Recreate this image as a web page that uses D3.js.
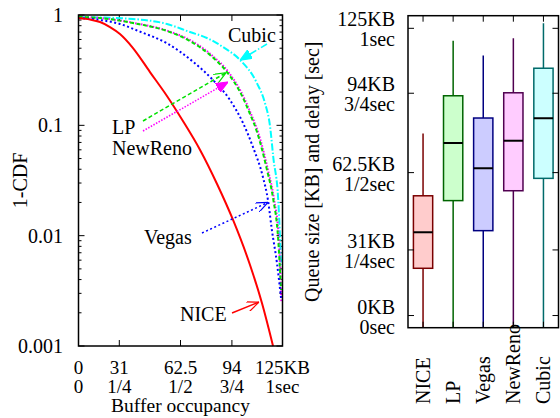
<!DOCTYPE html>
<html>
<head>
<meta charset="utf-8">
<script src="https://cdn.jsdelivr.net/npm/d3@7"></script>
<style>
  body { margin: 0; background: #fff; }
  text { font-family: "Liberation Serif", "Times New Roman", serif; fill: #000; }
</style>
</head>
<body>
<svg id="chart" width="560" height="418"></svg>
<script>
// ---- left panel: 1-CDF of buffer occupancy (x in KB) ----
const niceCurve = [[0,0.939],[7.05,0.910],[13.2,0.864],[19.3,0.778],[25.4,0.673],[33.4,0.502],[43.8,0.304],[54.2,0.1845],[64,0.1094],[74.5,0.0598],[84.9,0.0294],[94.7,0.01387],[105.1,0.00542],[112.4,0.00245],[119.2,0.001]];
const lpCurve = [[0,0.959],[13.2,0.939],[33.4,0.846],[54.2,0.716],[68.3,0.581],[80.6,0.434],[91,0.304],[99,0.2005],[105.1,0.1267],[109.4,0.087],[115.5,0.0394],[119.2,0.0219],[122.3,0.00952],[124.1,0.00322]];
const renoCurve = [[0,0.959],[13.2,0.939],[33.4,0.85],[54.2,0.722],[69,0.585],[81.3,0.437],[91.7,0.306],[99.7,0.2],[105.8,0.126],[110.1,0.086],[116.1,0.0394],[119.7,0.0219],[122.7,0.0095],[124.3,0.0025]];
const vegasCurve = [[0,0.939],[13.2,0.901],[25.4,0.829],[37.7,0.706],[54.2,0.554],[70.2,0.377],[82.4,0.2576],[92.8,0.1697],[100.8,0.105],[106.9,0.0636],[113,0.034],[116.1,0.021],[118.5,0.01125],[121.6,0.00565],[124.1,0.00272]];
const cubicCurve = [[0,0.959],[33.4,0.92],[54.2,0.829],[68.3,0.701],[78.7,0.619],[88.5,0.513],[99,0.391],[109.4,0.24],[114.3,0.1584],[117.4,0.0972],[119.4,0.0506],[122.4,0.021],[124.1,0.00542]];

const cdfTicksX = [0, 25, 62.5, 94, 125];
const cdfLabelsKB = ["0", "31", "62.5", "94", "125KB"];
const cdfLabelsSec = ["0", "1/4", "1/2", "3/4", "1sec"];
const cdfTicksY = [0.001, 0.01, 0.1, 1];
const cdfLabelsY = ["0.001", "0.01", "0.1", "1"];

// ---- right panel: queue size box plot ----
const boxNames = ["NICE", "LP", "Vegas", "NewReno", "Cubic"];
const boxMin = [0, 0, 0, 0, 0];
const boxQ1 = [25.9, 55.4, 42.3, 59.7, 65.1];
const boxMed = [41.6, 80.5, 69.5, 81.5, 91.3];
const boxQ3 = [57.5, 101.1, 91.4, 102.4, 113.1];
const boxMax = [84.7, 125.1, 118.6, 126.2, 132.7];
const boxTicks = [5.3, 33.9, 67.6, 102.2, 130.5];
const boxLabelsKB = ["0KB", "31KB", "62.5KB", "94KB", "125KB"];
const boxLabelsSec = ["0sec", "1/4sec", "1/2sec", "3/4sec", "1sec"];

const svg = d3.select('#chart');

// ================= left panel =================
const L = { left: 78.5, right: 282.5, top: 15, bottom: 346 };
const x = d3.scaleLinear().domain([0, 125]).range([L.left, L.right]);
const y = d3.scaleLog().domain([0.001, 1]).range([L.bottom, L.top]);

const left = svg.append('g');

// minor + major ticks (inward, both sides)
const minorY = [];
for (let e = -3; e < 0; e++) for (let m = 2; m <= 9; m++) minorY.push(m * Math.pow(10, e));
left.selectAll('.minor').data(minorY).join('path')
  .attr('d', d => `M${L.left},${y(d)}h3M${L.right},${y(d)}h-3`)
  .attr('stroke', '#000').attr('stroke-width', 1);
left.selectAll('.majorY').data(cdfTicksY).join('path')
  .attr('d', d => `M${L.left},${y(d)}h6M${L.right},${y(d)}h-6`)
  .attr('stroke', '#000').attr('stroke-width', 1);
left.selectAll('.majorX').data(cdfTicksX.slice(1, -1)).join('path')
  .attr('d', d => `M${x(d)},${L.bottom}v-6M${x(d)},${L.top}v6`)
  .attr('stroke', '#000').attr('stroke-width', 1);

left.selectAll('.ylab').data(cdfTicksY).join('text')
  .attr('x', 63).attr('y', d => y(d)).attr('dy', '0.35em')
  .attr('text-anchor', 'end').style('font-size', '20px')
  .text((d, i) => cdfLabelsY[i]);

left.selectAll('.xlab1').data(cdfTicksX).join('text')
  .attr('x', d => x(d)).attr('y', 374)
  .attr('text-anchor', 'middle').style('font-size', '19px')
  .text((d, i) => cdfLabelsKB[i]);
left.selectAll('.xlab2').data(cdfTicksX).join('text')
  .attr('x', d => x(d)).attr('y', 393)
  .attr('text-anchor', 'middle').style('font-size', '19px')
  .text((d, i) => cdfLabelsSec[i]);

left.append('text').attr('x', x(62.5)).attr('y', 412)
  .attr('text-anchor', 'middle').style('font-size', '19.5px').text('Buffer occupancy');
left.append('text').attr('transform', `translate(27,${(L.top + L.bottom) / 2}) rotate(-90)`)
  .attr('text-anchor', 'middle').style('font-size', '20px').text('1-CDF');

const lineGen = d3.line().x(d => x(d[0])).y(d => y(d[1])).curve(d3.curveMonotoneX);

const series = [
  { data: cubicCurve, color: '#00ffff', dash: '7,2,1.5,2' },
  { data: renoCurve, color: '#ff00ff', dash: '1.5,1.5' },
  { data: lpCurve, color: '#00e000', dash: '4,2.5' },
  { data: vegasCurve, color: '#0000ff', dash: '2,2.5' },
  { data: niceCurve, color: '#ff0000', dash: null }
];
left.selectAll('.curve').data(series).join('path')
  .attr('d', d => lineGen(d.data))
  .attr('fill', 'none')
  .attr('stroke', d => d.color)
  .attr('stroke-width', 2)
  .attr('stroke-dasharray', d => d.dash);

left.append('rect').attr('x', L.left).attr('y', L.top)
  .attr('width', L.right - L.left).attr('height', L.bottom - L.top)
  .attr('fill', 'none').attr('stroke', '#000').attr('stroke-width', 1.5);

// annotations: labels and arrows pointing at curves
const defs = svg.append('defs');
function arrowHead(id, color, filled) {
  defs.append('marker').attr('id', id)
    .attr('viewBox', '0 0 12 10').attr('refX', 12).attr('refY', 5)
    .attr('markerWidth', 12).attr('markerHeight', 10)
    .attr('markerUnits', 'userSpaceOnUse').attr('orient', 'auto')
    .append('path')
    .attr('d', filled ? 'M0,0L12,5L0,10Z' : 'M0,0L12,5L0,10')
    .attr('fill', filled ? color : 'none')
    .attr('stroke', color).attr('stroke-width', 1.2);
}
const notes = [
  { label: 'Cubic', tx: 228, ty: 35, from: [267, 44], to: [99, 0.39], color: '#00ffff', dash: '7,2,1.5,2', filled: true },
  { label: 'LP', tx: 112, ty: 127, from: [143, 121], to: [90.4, 0.30], color: '#00e000', dash: '4,2.5', filled: false },
  { label: 'NewReno', tx: 112, ty: 148, from: [143, 131], to: [91.6, 0.247], color: '#ff00ff', dash: '1.5,1.5', filled: true },
  { label: 'Vegas', tx: 144, ty: 237, from: [202, 233], to: [116.1, 0.020], color: '#0000ff', dash: '2,2.5', filled: false },
  { label: 'NICE', tx: 180, ty: 314, from: [232, 313], to: [110.6, 0.0025], color: '#ff0000', dash: null, filled: false }
];
notes.forEach((n, i) => arrowHead('ah' + i, n.color, n.filled));
left.selectAll('.note').data(notes).join('text')
  .attr('x', d => d.tx).attr('y', d => d.ty).attr('dy', '0.35em')
  .style('font-size', '20px').text(d => d.label);
left.selectAll('.arrow').data(notes).join('line')
  .attr('x1', d => d.from[0]).attr('y1', d => d.from[1])
  .attr('x2', d => x(d.to[0])).attr('y2', d => y(d.to[1]))
  .attr('stroke', d => d.color).attr('stroke-width', 1.5)
  .attr('stroke-dasharray', d => d.dash)
  .attr('marker-end', (d, i) => `url(#ah${i})`);

// ================= right panel =================
const R = { left: 408, right: 558.5, top: 15.7, bottom: 327.7 };
const xb = d3.scaleLinear().domain([0.5, 5.5]).range([R.left, R.right]);
const yb = d3.scaleLinear().domain([0, 136]).range([R.bottom, R.top]);
const right = svg.append('g');

const fills = ['#ffcccc', '#ccffcc', '#ccccff', '#ffccff', '#ccffff'];
const edges = ['#7a0000', '#006400', '#000080', '#500050', '#006a6a'];
const boxes = boxNames.map((name, i) => ({
  name, i, min: boxMin[i], q1: boxQ1[i], med: boxMed[i], q3: boxQ3[i], max: boxMax[i]
}));
const halfW = 0.32;

right.selectAll('.whisker').data(boxes).join('line')
  .attr('x1', d => xb(d.i + 1)).attr('x2', d => xb(d.i + 1))
  .attr('y1', d => yb(d.min)).attr('y2', d => yb(d.max))
  .attr('stroke', d => edges[d.i]).attr('stroke-width', 1.5);
right.selectAll('.box').data(boxes).join('rect')
  .attr('x', d => xb(d.i + 1 - halfW))
  .attr('width', d => xb(d.i + 1 + halfW) - xb(d.i + 1 - halfW))
  .attr('y', d => yb(d.q3))
  .attr('height', d => yb(d.q1) - yb(d.q3))
  .attr('fill', d => fills[d.i])
  .attr('stroke', d => edges[d.i]).attr('stroke-width', 1.5);
right.selectAll('.median').data(boxes).join('line')
  .attr('x1', d => xb(d.i + 1 - halfW)).attr('x2', d => xb(d.i + 1 + halfW))
  .attr('y1', d => yb(d.med)).attr('y2', d => yb(d.med))
  .attr('stroke', '#000').attr('stroke-width', 2);

right.selectAll('.ytick').data(boxTicks).join('path')
  .attr('d', d => `M${R.left},${yb(d)}h6M${R.right},${yb(d)}h-6`)
  .attr('stroke', '#000').attr('stroke-width', 1);
right.selectAll('.xtick').data(boxes).join('path')
  .attr('d', d => `M${xb(d.i + 1)},${R.top}v6M${xb(d.i + 1)},${R.bottom}v-6`)
  .attr('stroke', '#000').attr('stroke-width', 1);

right.selectAll('.ylab1').data(boxTicks).join('text')
  .attr('x', 395).attr('y', d => yb(d) - 9).attr('dy', '0.35em')
  .attr('text-anchor', 'end').style('font-size', '20px')
  .text((d, i) => boxLabelsKB[i]);
right.selectAll('.ylab2').data(boxTicks).join('text')
  .attr('x', 395).attr('y', d => yb(d) + 11).attr('dy', '0.35em')
  .attr('text-anchor', 'end').style('font-size', '20px')
  .text((d, i) => boxLabelsSec[i]);

right.selectAll('.xlab').data(boxes).join('text')
  .attr('transform', d => `translate(${xb(d.i + 1) + 7},404) rotate(-90)`)
  .attr('text-anchor', 'start').style('font-size', '20px')
  .text(d => d.name);

right.append('text')
  .attr('transform', `translate(319,${(R.top + R.bottom) / 2}) rotate(-90)`)
  .attr('text-anchor', 'middle').style('font-size', '20px')
  .text('Queue size [KB] and delay [sec]');

right.append('rect').attr('x', R.left).attr('y', R.top)
  .attr('width', R.right - R.left).attr('height', R.bottom - R.top)
  .attr('fill', 'none').attr('stroke', '#000').attr('stroke-width', 1.5);
</script>
</body>
</html>
